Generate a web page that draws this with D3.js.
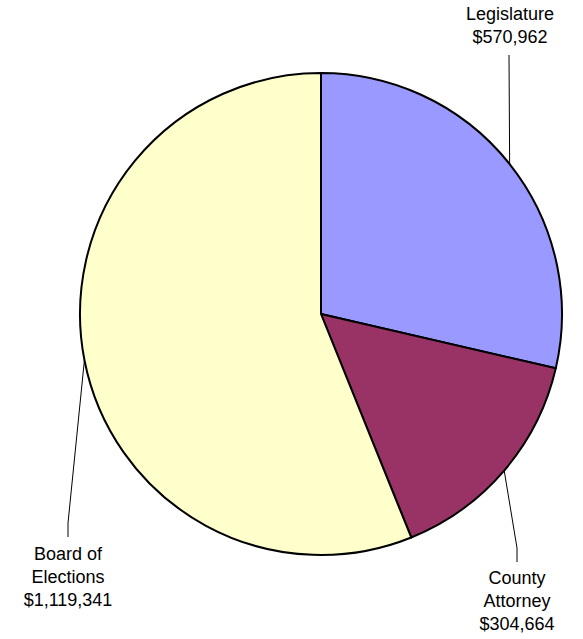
<!DOCTYPE html>
<html>
<head>
<meta charset="utf-8">
<script src="https://cdn.jsdelivr.net/npm/d3@7"></script>
<style>
  body { margin: 0; background: #fff; }
  svg { display: block; }
  text { font-family: "Liberation Sans", Arial, sans-serif; font-size: 18px; fill: #000; }
</style>
</head>
<body>
<svg id="svg" width="583" height="639"></svg>
<script>
var categories = ['Legislature', 'County Attorney', 'Board of Elections'];
var values = [570962, 304664, 1119341];
var colors = ['#9999ff', '#993366', '#ffffcc'];
// label lines as they appear, split for wrapping
var labelLines = [['Legislature'], ['County', 'Attorney'], ['Board of', 'Elections']];

var width = 583, height = 639;
var cx = 321, cy = 314, radius = 241;

var svg = d3.select('#svg');
var g = svg.append('g')
    .attr('transform', 'translate(' + cx + ',' + cy + ')');

var pie = d3.pie().sort(null).value(function(d) { return d; });
var arcs = pie(values);
var arc = d3.arc().innerRadius(0).outerRadius(radius);

g.selectAll('path')
    .data(arcs)
    .enter()
    .append('path')
    .attr('d', arc)
    .attr('fill', function(d, i) { return colors[i]; })
    .attr('stroke', '#000')
    .attr('stroke-width', 2)
    .attr('stroke-linejoin', 'round');

var fmt = d3.format('$,');

// leader line bend points and first-baseline label anchors (relative to centre)
var leaders = [
    { bend: [188, -259], end: [188, -259], text: [189, -294] },
    { bend: [196, 234], end: [196, 248], text: [196, 270] },
    { bend: [-253, 209], end: [-253, 223], text: [-253, 246] }
];

arcs.forEach(function(d, i) {
    var mid = (d.startAngle + d.endAngle) / 2;
    var p0 = [radius * Math.sin(mid), -radius * Math.cos(mid)];
    var L = leaders[i];
    g.append('polyline')
        .attr('points', [p0, L.bend, L.end].map(function(p) { return p.join(','); }).join(' '))
        .attr('fill', 'none')
        .attr('stroke', '#000')
        .attr('stroke-width', 1);

    var lines = labelLines[i].concat([fmt(values[i])]);
    var t = g.append('text')
        .attr('text-anchor', 'middle')
        .attr('x', L.text[0]);
    lines.forEach(function(s, j) {
        t.append('tspan')
            .attr('x', L.text[0])
            .attr('y', L.text[1] + j * 23)
            .text(s);
    });
});
</script>
</body>
</html>
